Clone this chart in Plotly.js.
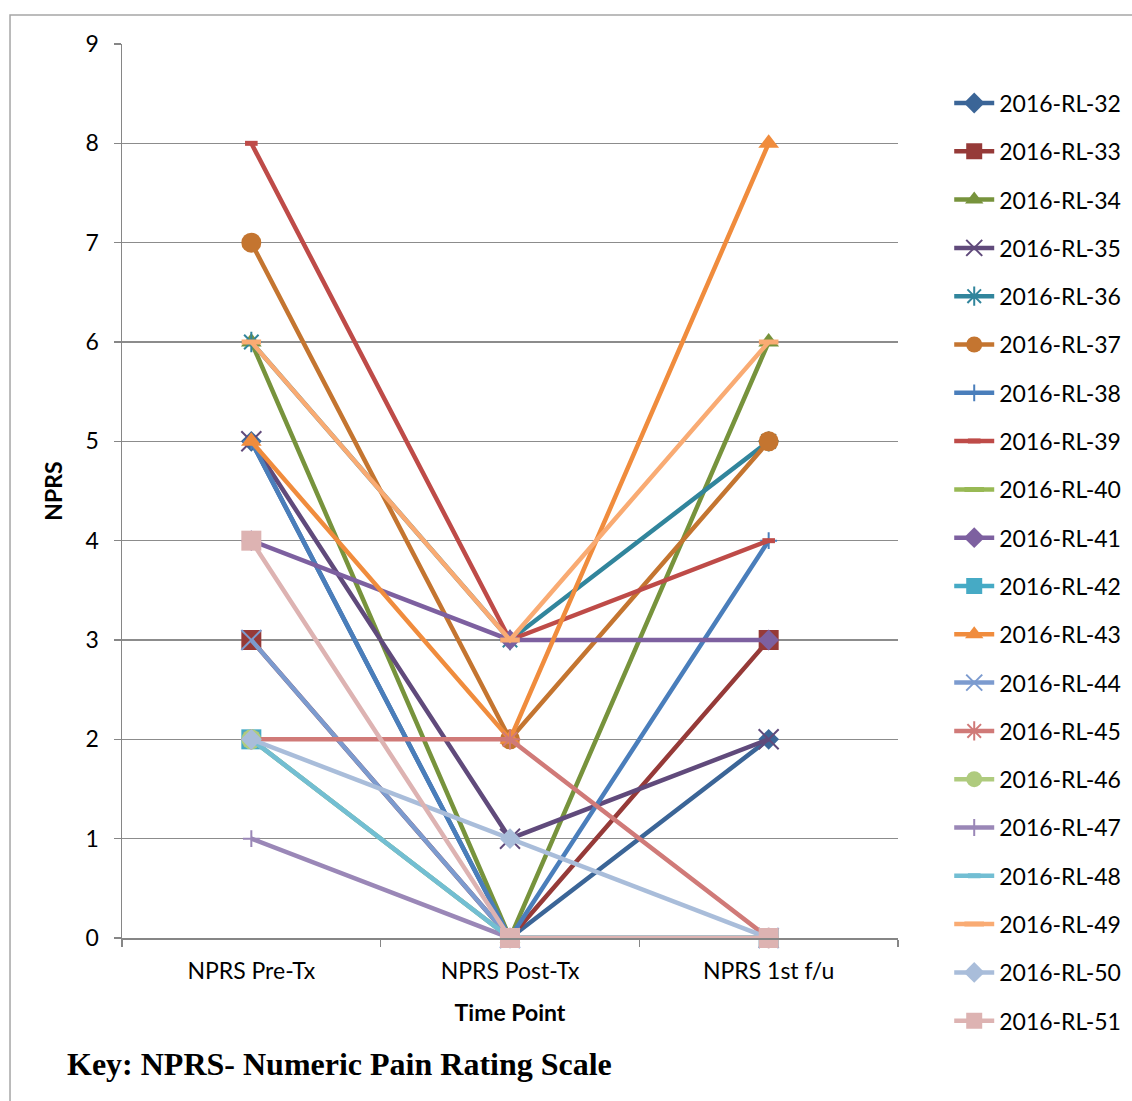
<!DOCTYPE html>
<html>
<head>
<meta charset="utf-8">
<script src="https://cdn.plot.ly/plotly-3.0.1.min.js"></script>
<style>
  html, body { margin: 0; padding: 0; background: #ffffff; }
  #chart { width: 1132px; height: 1101px; }
</style>
</head>
<body>
<div id="chart"></div>
<script>
// Time points on the x axis
const timePoints = ["NPRS Pre-Tx", "NPRS Post-Tx", "NPRS 1st f/u"];

// Participant IDs
const subjects = [
  "2016-RL-32", "2016-RL-33", "2016-RL-34", "2016-RL-35", "2016-RL-36",
  "2016-RL-37", "2016-RL-38", "2016-RL-39", "2016-RL-40", "2016-RL-41",
  "2016-RL-42", "2016-RL-43", "2016-RL-44", "2016-RL-45", "2016-RL-46",
  "2016-RL-47", "2016-RL-48", "2016-RL-49", "2016-RL-50", "2016-RL-51"
];

// NPRS scores per participant: [Pre-Tx, Post-Tx, 1st f/u]
const rl32 = [5, 0, 2];
const rl33 = [3, 0, 3];
const rl34 = [6, 0, 6];
const rl35 = [5, 1, 2];
const rl36 = [6, 3, 5];
const rl37 = [7, 2, 5];
const rl38 = [5, 0, 4];
const rl39 = [8, 3, 4];
const rl40 = [null, null, null];
const rl41 = [4, 3, 3];
const rl42 = [2, 0, 0];
const rl43 = [5, 2, 8];
const rl44 = [3, 0, 0];
const rl45 = [2, 2, 0];
const rl46 = [2, 0, 0];
const rl47 = [1, 0, 0];
const rl48 = [2, 0, 0];
const rl49 = [6, 3, 6];
const rl50 = [2, 1, 0];
const rl51 = [4, 0, 0];

const scores = [rl32, rl33, rl34, rl35, rl36, rl37, rl38, rl39, rl40, rl41,
                rl42, rl43, rl44, rl45, rl46, rl47, rl48, rl49, rl50, rl51];

// Series colours (office palette: dark, base, light shades)
const colors = [
  "#3B6597", "#963A38", "#77933C", "#604A7B", "#31859C", "#C47530",
  "#4A7EBB", "#BE4B48", "#98B954", "#7D60A0", "#46AAC5", "#F08C3D",
  "#7C9BCF", "#D07A78", "#AFCB7E", "#9A87B7", "#72BED3", "#F9AB73",
  "#A9BDDA", "#DDB3B2"
];

// Marker cycle
const symbols = [
  "diamond", "square", "triangle-up", "x-thin-open", "asterisk-open",
  "circle", "cross-thin-open", "line-ew-open", "line-ew-open",
  "diamond", "square", "triangle-up", "x-thin-open", "asterisk-open",
  "circle", "cross-thin-open", "line-ew-open", "line-ew-open",
  "diamond", "square"
];
const sizes = [
  16, 20, 18, 20, 17, 20, 12, 9, 14,
  16, 20, 18, 20, 17, 20, 12, 9, 14,
  16, 20
];

const FONT = "Lato, 'Open Sans', sans-serif";

const traces = subjects.map((name, i) => {
  const open = symbols[i].indexOf("open") >= 0;
  return {
    type: "scatter",
    mode: "lines+markers",
    name: name,
    legendgroup: name,
    x: timePoints,
    y: scores[i],
    line: { color: colors[i], width: 4.5 },
    marker: {
      symbol: symbols[i],
      size: sizes[i],
      color: colors[i],
      line: { color: colors[i], width: open ? (symbols[i] === "line-ew-open" ? 5 : 2) : 0 }
    },
    cliponaxis: false
  };
});

const layout = {
  width: 1132,
  height: 1101,
  paper_bgcolor: "#ffffff",
  plot_bgcolor: "#ffffff",
  margin: { l: 122, r: 234, t: 44, b: 163, autoexpand: false },
  font: { family: FONT, color: "#000000", size: 23 },
  showlegend: true,
  legend: {
    x: 1.066,
    xanchor: "left",
    y: 0.958,
    yanchor: "top",
    traceorder: "grouped",
    tracegroupgap: 15.4,
    maxheight: 1100,
    font: { family: FONT, size: 23, color: "#000000" },
    bgcolor: "rgba(0,0,0,0)",
    itemwidth: 40
  },
  xaxis: {
    type: "category",
    range: [-0.5, 2.5],
    showgrid: false,
    showline: true,
    linecolor: "#868686",
    linewidth: 1.5,
    ticks: "outside",
    tickson: "boundaries",
    ticklen: 7,
    tickcolor: "#868686",
    tickwidth: 1.5,
    ticklabelstandoff: 12,
    tickfont: { family: FONT, size: 23, color: "#000000" },
    title: { text: "<b>Time Point</b>", font: { family: FONT, size: 23, color: "#000000" }, standoff: 22 },
    fixedrange: true
  },
  yaxis: {
    range: [0, 9],
    dtick: 1,
    showgrid: true,
    gridcolor: "#8C8C8C",
    gridwidth: 1.5,
    zeroline: false,
    showline: true,
    linecolor: "#868686",
    linewidth: 1.5,
    ticks: "outside",
    ticklen: 7,
    tickcolor: "#868686",
    tickwidth: 1.5,
    ticklabelstandoff: 10,
    tickfont: { family: FONT, size: 23, color: "#000000" },
    title: { text: "<b>NPRS</b>", font: { family: FONT, size: 23, color: "#000000" }, standoff: 16 },
    fixedrange: true
  },
  shapes: [
    {
      type: "rect", xref: "paper", yref: "paper",
      x0: -0.1443, x1: 1.40, y0: -0.30, y1: 1.0324,
      line: { color: "#A6A6A6", width: 1.5 },
      fillcolor: "rgba(0,0,0,0)",
      layer: "below"
    }
  ],
  annotations: [
    {
      text: "<b>Key: NPRS- Numeric Pain Rating Scale</b>",
      xref: "paper", yref: "paper",
      x: -0.074, y: -0.141,
      xanchor: "left", yanchor: "middle",
      showarrow: false,
      font: { family: "'Liberation Serif', 'Times New Roman', serif", size: 32, color: "#000000" }
    }
  ]
};

Plotly.newPlot("chart", traces, layout, { displayModeBar: false, staticPlot: true });
</script>
</body>
</html>
